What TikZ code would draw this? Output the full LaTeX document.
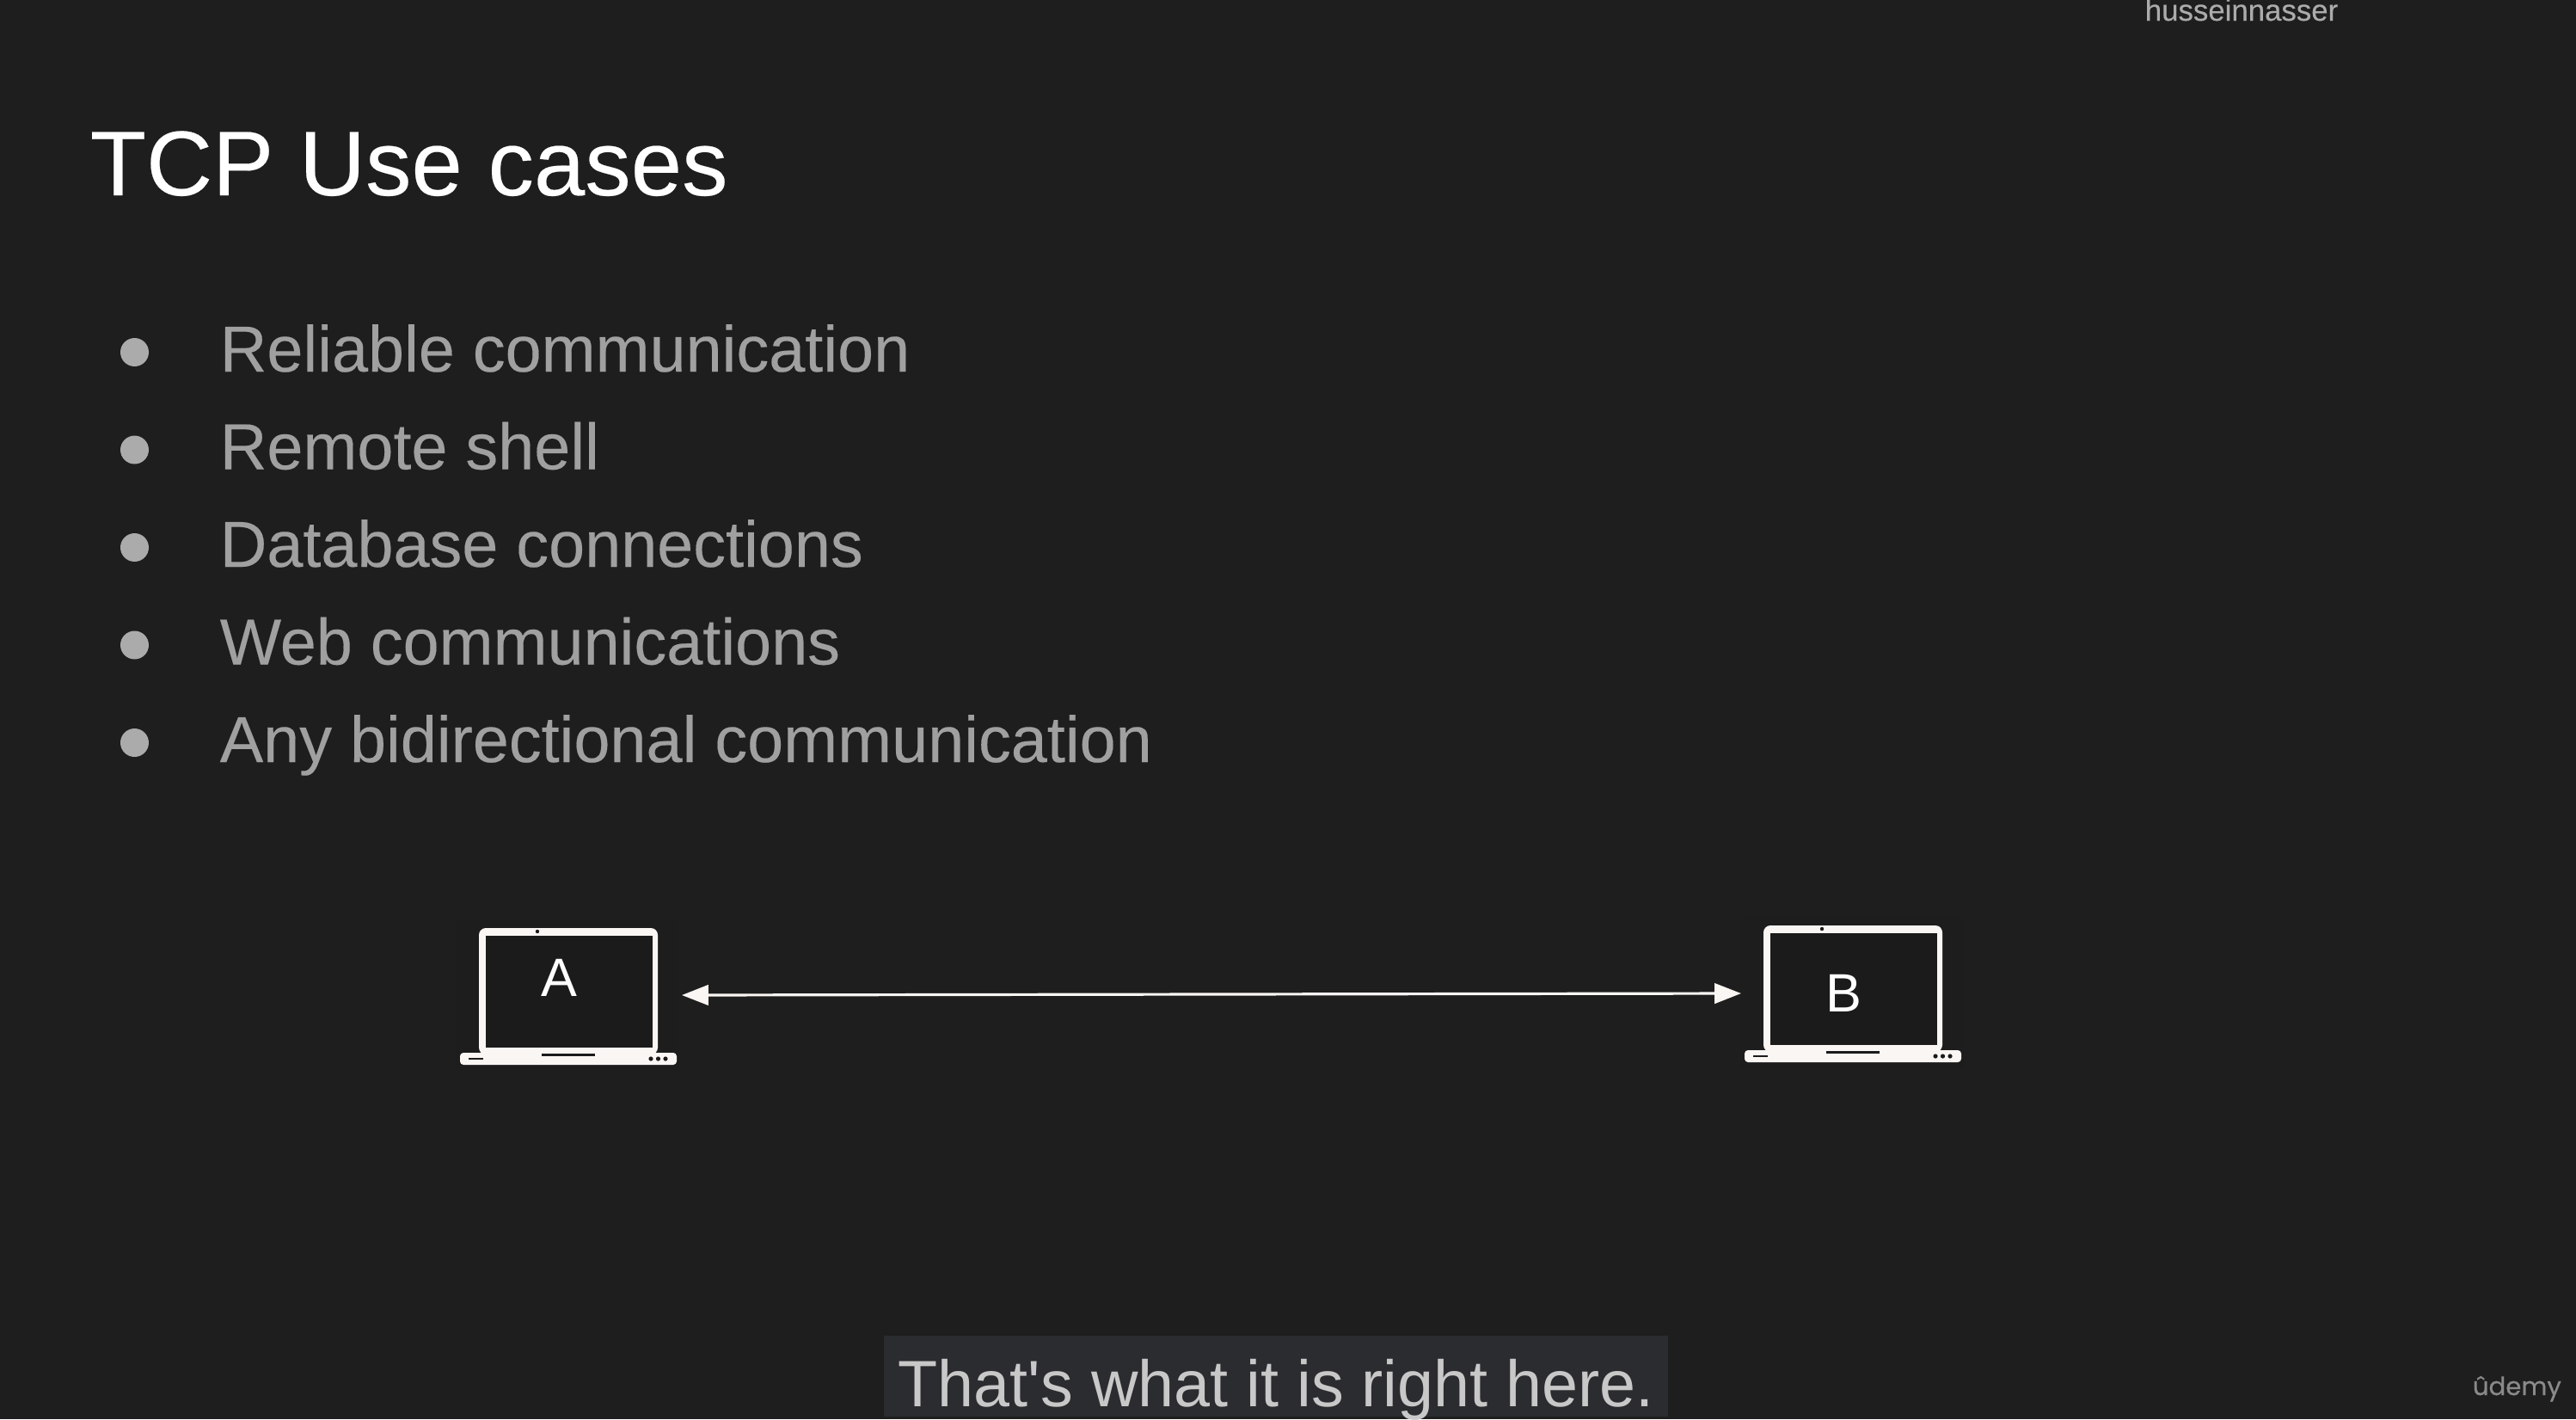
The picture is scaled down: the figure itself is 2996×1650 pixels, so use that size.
\documentclass[tikz,border=0pt]{standalone}
\usepackage{fontspec}
\setmainfont{Liberation Sans}
\newfontfamily\markfont[FakeBold=0.5]{Poppins}
\newfontfamily\bodyfont[FakeBold=0.2]{Liberation Sans}
\usetikzlibrary{arrows.meta}
\definecolor{bgc}{HTML}{1E1E1E}
\definecolor{capbg}{HTML}{2B2C2F}
\definecolor{capfg}{HTML}{C8C8C8}
\definecolor{bodyc}{HTML}{A0A0A0}
\definecolor{bulletc}{HTML}{ABABAB}
\definecolor{lapc}{HTML}{FAF6F4}
\definecolor{markc}{HTML}{8A8A8A}
\definecolor{userc}{HTML}{ABABAB}
\definecolor{screenc}{HTML}{1B1B1B}
\definecolor{haloc}{HTML}{1D1D1D}
\tikzset{
  x=0.25pt,y=-0.25pt,
  txt/.style={inner sep=0pt,anchor=base west,text=bodyc,font=\bodyfont\fontsize{18.9}{22}\selectfont},
  dot/.style={circle,fill=bulletc,inner sep=0pt,minimum size=8.25pt},
  lap/.style={fill=lapc,draw=none},
  bidir/.style={draw=lapc,line width=0.8pt,{Triangle[length=7.7pt,width=5.8pt]}-{Triangle[length=7.7pt,width=5.8pt]}}
}
\newcommand{\laptop}[3]{%
  \begin{scope}[shift={(#1,#2)}]
    \fill[haloc] (530,1070) rectangle (790,1245);
    \fill[lap,rounded corners=2pt] (557,1079) -- (765,1079) -- (765,1226) -- (557,1226) -- cycle;
    \fill[lap,rounded corners=1pt] (535,1224) -- (787,1224) -- (787,1238) -- (535,1238) -- cycle;
    \node[fill=screenc,inner sep=0pt,minimum width=48.5pt,minimum height=32.5pt,anchor=north west] (#3) at (564,1087) {};
    \fill[screenc] (625,1083) circle (0.55pt);
    \fill[screenc] (630,1224.5) rectangle (692,1227.5);
    \fill[screenc] (545,1230) rectangle (562,1232);
    \fill[screenc] (757,1231) circle (0.65pt) (765.5,1231) circle (0.65pt) (774,1231) circle (0.65pt);
  \end{scope}}
\begin{document}
\begin{tikzpicture}
\useasboundingbox (0,0) rectangle (2996,1650);
\fill[bgc] (0,0) rectangle (2996,1650);
\node[inner sep=0pt,anchor=base west,text=white,font=\bodyfont\fontsize{26.7}{30}\selectfont] (title) at (104,227) {TCP Use cases};
\foreach \n/\yy/\tx in {a/432/Reliable communication,b/545.5/Remote shell,c/659/Database connections,d/772.5/Web communications,e/886/Any bidirectional communication}{
  \node[dot] (dot\n) at (156.5,\yy-22.5) {};
  \node[txt] (item\n) at (255,\yy) {\tx};
}
\node[inner sep=0pt,anchor=base west,text=userc,font=\bodyfont\fontsize{8.7}{11}\selectfont] (user) at (2494,24) {husseinnasser};
\laptop{0}{0}{screenA}
\laptop{1494}{-3}{screenB}
\node[inner sep=0pt,anchor=base,text=white,font=\fontsize{15.7}{18}\selectfont] (labA) at (650,1158) {A};
\node[inner sep=0pt,anchor=base,text=white,font=\fontsize{15.7}{18}\selectfont] (labB) at (2144,1176) {B};
\coordinate (endA) at (793,1157);
\coordinate (endB) at (2025,1155);
\draw[bidir] (endA) -- (endB);
\fill[capbg] (1028,1553) rectangle (1940,1647);
\node[inner sep=0pt,anchor=base west,text=capfg,font=\fontsize{19.05}{23}\selectfont] (cap) at (1044,1635) {\scalebox{0.991}[1]{That\textquotesingle s what it is right here.}};
\node[inner sep=0pt,anchor=base west,text=markc,font=\markfont\fontsize{7.3}{10}\selectfont] (mark) at (2875,1622) {ûdemy};
\end{tikzpicture}
\end{document}
